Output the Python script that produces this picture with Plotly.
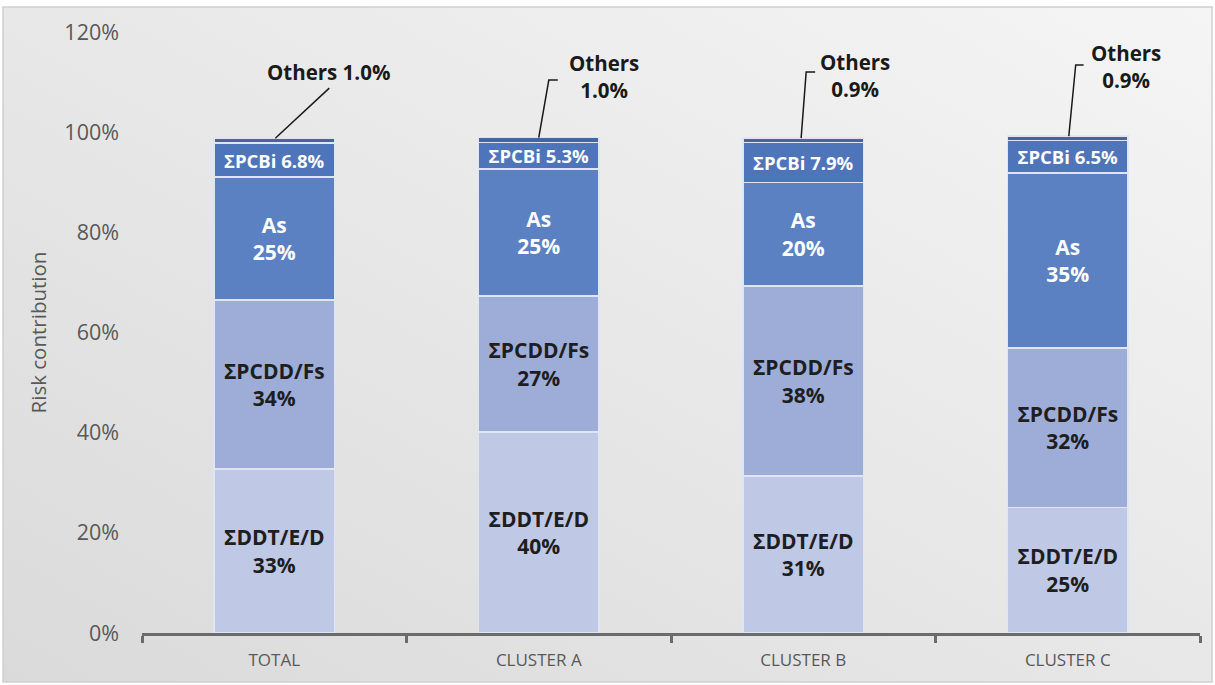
import plotly.graph_objects as go
import base64

categories = ["TOTAL", "CLUSTER A", "CLUSTER B", "CLUSTER C"]
ddt = [32.7, 40.1, 31.3, 25.1]
pcdd = [33.8, 27.2, 38.0, 31.8]
arsenic = [24.5, 25.3, 20.7, 34.9]
pcbi = [6.8, 5.3, 7.9, 6.5]
others = [1.0, 1.0, 0.9, 0.9]

ddt_lbl = ["33%", "40%", "31%", "25%"]
pcdd_lbl = ["34%", "27%", "38%", "32%"]
as_lbl = ["25%", "25%", "20%", "35%"]
pcbi_lbl = ["6.8%", "5.3%", "7.9%", "6.5%"]
others_lbl = ["Others 1.0%", "Others<br>1.0%", "Others<br>0.9%", "Others<br>0.9%"]

FONT = "Open Sans"
edge = dict(color="#dfe5f2", width=1.5)

fig = go.Figure()

def add(name, vals, color, texts, tcolor, size):
    fig.add_trace(go.Bar(
        name=name, x=categories, y=vals,
        marker=dict(color=color, line=edge),
        text=texts, textposition="inside", insidetextanchor="middle",
        textangle=0, constraintext="none",
        textfont=dict(family=FONT, size=size, color=tcolor, weight="bold"),
        hoverinfo="skip",
    ))

add("ΣDDT/E/D", ddt, "#bfc8e4", [f"ΣDDT/E/D<br>{t}" for t in ddt_lbl], "#1e1e1e", 21)
add("ΣPCDD/Fs", pcdd, "#9dadd8", [f"ΣPCDD/Fs<br>{t}" for t in pcdd_lbl], "#1e1e1e", 21)
add("As", arsenic, "#5b81c3", [f"As<br>{t}" for t in as_lbl], "white", 21)
add("ΣPCBi", pcbi, "#4e74b9", [f"ΣPCBi {t}" for t in pcbi_lbl], "white", 18.5)
add("Others", others, "#46659f", ["" for _ in others], "white", 10)

# leader-line geometry for "Others" callouts (offsets in category units / % units)
call_end = [(0.208, 108.8, None), (0.038, 110.4, 0.072), (0.011, 112.0, 0.045), (0.030, 113.4, 0.060)]
text_pos = [(0.205, 112.0), (0.246, 111.2), (0.197, 111.3), (0.219, 113.2)]
start_off = [0.004, 0.0, -0.008, 0.004]

for i in range(len(categories)):
    top = ddt[i] + pcdd[i] + arsenic[i] + pcbi[i] + others[i]
    ex, ey, hx = call_end[i]
    xs = [i + start_off[i], i + ex]
    ys = [top, ey]
    if hx is not None:
        xs.append(i + hx)
        ys.append(ey)
    path = "M " + " L ".join(f"{a},{b}" for a, b in zip(xs, ys))
    fig.add_shape(type="path", path=path, xref="x", yref="y",
                  line=dict(color="#1a1a1a", width=1.5))
    tx, ty = text_pos[i]
    fig.add_annotation(x=i + tx, y=ty, xref="x", yref="y", text=others_lbl[i],
                       showarrow=False, font=dict(family=FONT, size=20.5, color="#1a1a1a", weight="bold"))

# gradient background (decoration)
svg = ('<svg xmlns="http://www.w3.org/2000/svg" width="100" height="100" preserveAspectRatio="none">'
       '<defs><linearGradient id="g" x1="1" y1="0" x2="0" y2="1">'
       '<stop offset="0" stop-color="#f5f5f5"/><stop offset="1" stop-color="#dadada"/>'
       '</linearGradient></defs><rect width="100" height="100" fill="url(#g)"/></svg>')
src = "data:image/svg+xml;base64," + base64.b64encode(svg.encode()).decode()

W, H = 1215, 685
L, R, T, B = 142, 15, 32, 52
pw, ph = W - L - R, H - T - B
bx0, bx1, by0, by1 = 3, 1212, 7, 682
px0 = (bx0 - L) / pw
px1 = (bx1 - L) / pw
py1 = (H - B - by0) / ph
py0 = (H - B - by1) / ph

fig.add_layout_image(dict(source=src, xref="paper", yref="paper", x=px0, y=py1,
                          sizex=px1 - px0, sizey=py1 - py0, sizing="stretch",
                          xanchor="left", yanchor="top", layer="below"))
fig.add_shape(type="rect", xref="paper", yref="paper", x0=px0, x1=px1, y0=py0, y1=py1,
              line=dict(color="#cfcfcf", width=1.5), fillcolor="rgba(0,0,0,0)", layer="below")

fig.update_layout(
    width=W, height=H,
    margin=dict(l=L, r=R, t=T, b=B),
    barmode="stack", bargap=0.545,
    showlegend=False,
    paper_bgcolor="white", plot_bgcolor="rgba(0,0,0,0)",
    font=dict(family=FONT, color="#595959"),
    xaxis=dict(showgrid=False, showline=True, linecolor="#6b6b6b", linewidth=3,
               ticks="outside", tickson="boundaries", ticklen=7, tickwidth=3,
               tickcolor="#6b6b6b", tickfont=dict(family=FONT, size=17, color="#595959"),
               ticklabelstandoff=10),
    yaxis=dict(range=[0, 120], dtick=20, ticksuffix="%", showgrid=False, zeroline=False,
               showline=False, tickfont=dict(family=FONT, size=21.5, color="#595959"),
               ticklabelstandoff=22,
               title=dict(text="Risk contribution", font=dict(family=FONT, size=20.5, color="#595959"),
                          standoff=12)),
)

fig.write_html("out.html", post_script="document.body.style.margin='0';",
               config={"displayModeBar": False})
